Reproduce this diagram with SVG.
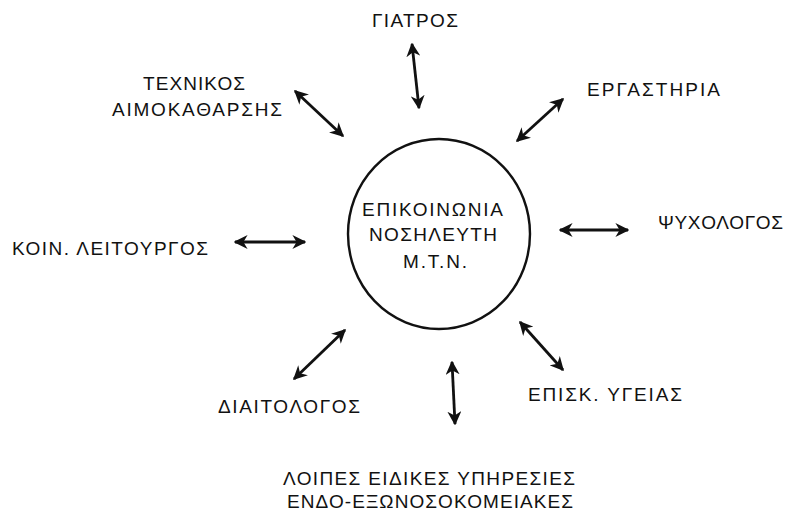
<svg xmlns="http://www.w3.org/2000/svg" width="796" height="516" viewBox="0 0 796 516">
<style>
text{font-family:"Liberation Sans","DejaVu Sans",sans-serif;fill:#111;font-size:19px}
.arr{stroke:#111;stroke-width:2.8;fill:none;marker-start:url(#ah);marker-end:url(#ah)}
</style>
<defs>
<marker id="ah" viewBox="0 0 10 10" refX="9" refY="5" markerWidth="5" markerHeight="5" markerUnits="strokeWidth" orient="auto-start-reverse">
<path d="M0,0 L10,5 L0,10 L3,5 Z" fill="#111"/>
</marker>
</defs>
<rect width="796" height="516" fill="#fff"/>
<g id="center">
<ellipse cx="439" cy="234" rx="91" ry="95" fill="none" stroke="#111" stroke-width="2.4"/>
<text x="362" y="216" textLength="141" lengthAdjust="spacing" font-size="17.5">ΕΠΙΚΟΙΝΩΝΙΑ</text>
<text x="369" y="241" textLength="128" lengthAdjust="spacing" font-size="17.5">ΝΟΣΗΛΕΥΤΗ</text>
<text x="403" y="268" textLength="64" lengthAdjust="spacing" font-size="17.5">Μ.Τ.Ν.</text>
</g>
<g id="giatros"><text x="372" y="27" textLength="86" lengthAdjust="spacing">ΓΙΑΤΡΟΣ</text></g>
<g id="texnikos">
<text x="143" y="90" textLength="102" lengthAdjust="spacing">ΤΕΧΝΙΚΟΣ</text>
<text x="112" y="116" textLength="170" lengthAdjust="spacing">ΑΙΜΟΚΑΘΑΡΣΗΣ</text>
</g>
<g id="ergastiria"><text x="587" y="96" textLength="133" lengthAdjust="spacing">ΕΡΓΑΣΤΗΡΙΑ</text></g>
<g id="koin"><text x="12" y="255" textLength="196" lengthAdjust="spacing">ΚΟΙΝ. ΛΕΙΤΟΥΡΓΟΣ</text></g>
<g id="psyxologos"><text x="658" y="229" textLength="125" lengthAdjust="spacing">ΨΥΧΟΛΟΓΟΣ</text></g>
<g id="diaitologos"><text x="218" y="413" textLength="142" lengthAdjust="spacing">ΔΙΑΙΤΟΛΟΓΟΣ</text></g>
<g id="episk"><text x="528" y="401" textLength="154" lengthAdjust="spacing">ΕΠΙΣΚ. ΥΓΕΙΑΣ</text></g>
<g id="loipes">
<text x="283" y="485" textLength="292" lengthAdjust="spacing">ΛΟΙΠΕΣ ΕΙΔΙΚΕΣ ΥΠΗΡΕΣΙΕΣ</text>
<text x="287" y="508" textLength="286" lengthAdjust="spacing">ΕΝΔΟ-ΕΞΩΝΟΣΟΚΟΜΕΙΑΚΕΣ</text>
</g>
<g id="connectors">
<line class="arr" x1="412" y1="44" x2="419" y2="108"/>
<line class="arr" x1="517" y1="141" x2="563" y2="99"/>
<line class="arr" x1="295" y1="91" x2="343" y2="136"/>
<line class="arr" x1="235" y1="242" x2="305" y2="242"/>
<line class="arr" x1="560" y1="230" x2="628" y2="230"/>
<line class="arr" x1="294" y1="379" x2="345" y2="330"/>
<line class="arr" x1="452" y1="362" x2="455" y2="424"/>
<line class="arr" x1="520" y1="322" x2="563" y2="370"/>
</g>
</svg>
